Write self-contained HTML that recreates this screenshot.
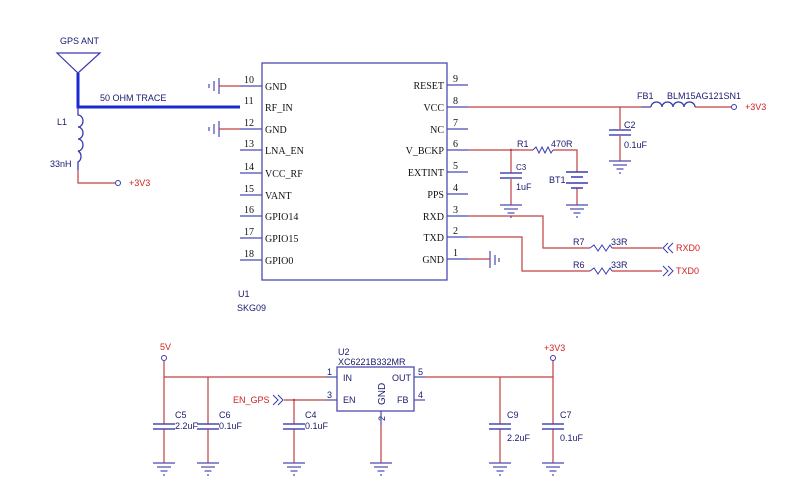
<!DOCTYPE html>
<html><head><meta charset="utf-8"><style>
html,body{margin:0;padding:0;background:#fff;}
svg{display:block}
text{font-family:"Liberation Sans",sans-serif;font-size:9px;fill:#1a1a6e}
.m{font-family:"Liberation Serif",serif;font-size:10px;fill:#111}
.r{fill:#d02020}
</style></head><body>
<svg width="800" height="496" viewBox="0 0 800 496" xmlns="http://www.w3.org/2000/svg">
<defs>
<g id="gnd" stroke="#4a4ab0" stroke-width="1.2" fill="none">
<line x1="-11" y1="0" x2="11" y2="0"/><line x1="-7" y1="4" x2="7" y2="4"/><line x1="-3.5" y1="8" x2="3.5" y2="8"/><line x1="0" y1="11" x2="0" y2="13"/>
</g>
<g id="cap" stroke="#4a4ab0" stroke-width="1.5"><line x1="-11" y1="0" x2="11" y2="0"/><line x1="-11" y1="5" x2="11" y2="5"/></g>
</defs>

<!-- Antenna -->
<text x="60" y="44">GPS ANT</text>
<polygon points="57,53 100,53 78,73" fill="none" stroke="#3a3ab0" stroke-width="1.2"/>
<polyline points="78,73 78,107 240,107" fill="none" stroke="#1a2ad0" stroke-width="3"/>
<text x="100" y="101">50 OHM TRACE</text>
<text x="57" y="125">L1</text>
<path d="M78,107 V115 a5,6 0 0 1 0,12 a5,6 0 0 1 0,12 a5,6 0 0 1 0,12 a5,6 0 0 1 0,11 V170" fill="none" stroke="#3a3ab0" stroke-width="1.3"/>
<text x="50" y="167">33nH</text>
<polyline points="78,170 78,183 115,183" fill="none" stroke="#c04040" stroke-width="1.2"/>
<circle cx="118" cy="183" r="2.5" fill="none" stroke="#3a3ab0"/>
<text x="129" y="186" class="r">+3V3</text>

<!-- U1 -->
<rect x="262" y="63" width="185" height="217" fill="none" stroke="#4a4ab0" stroke-width="1.3"/>
<g stroke="#4a4ab0" stroke-width="1.2">
<line x1="240" y1="86" x2="262" y2="86"/><line x1="240" y1="129" x2="262" y2="129"/>
<line x1="240" y1="150" x2="262" y2="150"/><line x1="240" y1="173" x2="262" y2="173"/>
<line x1="240" y1="195" x2="262" y2="195"/><line x1="240" y1="216" x2="262" y2="216"/>
<line x1="240" y1="238" x2="262" y2="238"/><line x1="240" y1="260" x2="262" y2="260"/>
<line x1="447" y1="85" x2="468" y2="85"/><line x1="447" y1="107" x2="468" y2="107"/>
<line x1="447" y1="129" x2="468" y2="129"/><line x1="447" y1="150" x2="468" y2="150"/>
<line x1="447" y1="172" x2="468" y2="172"/><line x1="447" y1="194" x2="468" y2="194"/>
<line x1="447" y1="216" x2="468" y2="216"/><line x1="447" y1="237" x2="468" y2="237"/>
<line x1="447" y1="259" x2="468" y2="259"/>
</g>
<g class="m">
<text class="m" x="244" y="83">10</text><text class="m" x="244" y="104">11</text><text class="m" x="244" y="126">12</text>
<text class="m" x="244" y="147">13</text><text class="m" x="244" y="170">14</text><text class="m" x="244" y="192">15</text>
<text class="m" x="244" y="213">16</text><text class="m" x="244" y="235">17</text><text class="m" x="244" y="257">18</text>
<text class="m" x="265" y="90">GND</text><text class="m" x="265" y="111">RF_IN</text><text class="m" x="265" y="133">GND</text>
<text class="m" x="265" y="154">LNA_EN</text><text class="m" x="265" y="177">VCC_RF</text><text class="m" x="265" y="199">VANT</text>
<text class="m" x="265" y="220">GPIO14</text><text class="m" x="265" y="242">GPIO15</text><text class="m" x="265" y="264">GPIO0</text>
<text class="m" x="453" y="82">9</text><text class="m" x="453" y="104">8</text><text class="m" x="453" y="126">7</text>
<text class="m" x="453" y="147">6</text><text class="m" x="453" y="169">5</text><text class="m" x="453" y="191">4</text>
<text class="m" x="453" y="213">3</text><text class="m" x="453" y="234">2</text><text class="m" x="453" y="256">1</text>
<text class="m" x="444" y="89" text-anchor="end">RESET</text><text class="m" x="444" y="111" text-anchor="end">VCC</text>
<text class="m" x="444" y="133" text-anchor="end">NC</text><text class="m" x="444" y="154" text-anchor="end">V_BCKP</text>
<text class="m" x="444" y="176" text-anchor="end">EXTINT</text><text class="m" x="444" y="198" text-anchor="end">PPS</text>
<text class="m" x="444" y="220" text-anchor="end">RXD</text><text class="m" x="444" y="241" text-anchor="end">TXD</text>
<text class="m" x="444" y="263" text-anchor="end">GND</text>
</g>
<text x="238" y="297">U1</text>
<text x="237" y="311">SKG09</text>

<!-- left GNDs -->
<g stroke="#4a4ab0" stroke-width="1.2">
<line x1="219" y1="78" x2="219" y2="94"/><line x1="214" y1="81" x2="214" y2="91"/><line x1="209" y1="84" x2="209" y2="88"/>
<line x1="219" y1="121" x2="219" y2="137"/><line x1="214" y1="124" x2="214" y2="134"/><line x1="209" y1="127" x2="209" y2="131"/>
<line x1="490" y1="251" x2="490" y2="268"/><line x1="495" y1="255" x2="495" y2="265"/><line x1="499" y1="258" x2="499" y2="262"/>
</g>
<g stroke="#c04040" stroke-width="1.2" fill="none">
<line x1="219" y1="86" x2="240" y2="86"/><line x1="219" y1="129" x2="240" y2="129"/>
<line x1="468" y1="259" x2="490" y2="259"/>
<line x1="468" y1="107" x2="651" y2="107"/>
<line x1="620" y1="107" x2="620" y2="129"/><line x1="620" y1="136" x2="620" y2="161"/>
<line x1="695" y1="107" x2="731" y2="107"/>
<polyline points="468,150 533,150"/><polyline points="553,150 577,150 577,172"/>
<line x1="511" y1="150" x2="511" y2="173"/><line x1="511" y1="179" x2="511" y2="205"/>
<line x1="577" y1="188" x2="577" y2="205"/>
<polyline points="468,216 543,216 543,248 590,248"/><line x1="612" y1="248" x2="662" y2="248"/>
<polyline points="468,237 522,237 522,271 590,271"/><line x1="612" y1="271" x2="662" y2="271"/>
</g>
<!-- FB1 -->
<path d="M651,107 a5.5,5 0 0 1 11,0 a5.5,5 0 0 1 11,0 a5.5,5 0 0 1 11,0 a5.5,5 0 0 1 11,0" fill="none" stroke="#3a3ab0" stroke-width="1.3"/>
<line x1="641" y1="107" x2="651" y2="107" stroke="#3a3ab0"/>
<circle cx="734" cy="107" r="2.5" fill="none" stroke="#3a3ab0"/>
<text x="637" y="99">FB1</text><text x="667" y="99">BLM15AG121SN1</text>
<text x="745" y="110" class="r">+3V3</text>
<use href="#cap" x="620" y="130"/><use href="#gnd" x="620" y="161"/>
<text x="624" y="128">C2</text><text x="624" y="148">0.1uF</text>
<!-- R1 -->
<polyline points="533,150 536,147 539,153 542,147 545,153 548,147 551,153 553,150" fill="none" stroke="#3a3ab0"/>
<text x="517" y="147">R1</text><text x="551" y="147">470R</text>
<circle cx="511" cy="150" r="1.2" fill="#c04040"/>
<use href="#cap" x="511" y="173"/><use href="#gnd" x="511" y="205"/>
<text x="516" y="170" style="font-size:8px">C3</text><text x="516" y="190">1uF</text>
<g stroke="#3a3ab0" stroke-width="1.5"><line x1="566" y1="172" x2="588" y2="172"/><line x1="571" y1="177" x2="583" y2="177"/><line x1="566" y1="183" x2="588" y2="183"/><line x1="571" y1="188" x2="583" y2="188"/></g>
<use href="#gnd" x="577" y="205"/>
<text x="549" y="183">BT1</text>
<!-- R7 R6 -->
<polyline points="590,248 594,245 598,251 602,245 606,251 610,245 612,248" fill="none" stroke="#3a3ab0"/>
<polyline points="590,271 594,268 598,274 602,268 606,274 610,268 612,271" fill="none" stroke="#3a3ab0"/>
<text x="573" y="245">R7</text><text x="611" y="245">33R</text>
<text x="573" y="268">R6</text><text x="611" y="268">33R</text>
<g fill="none" stroke="#3a3ab0"><polyline points="668,243 663,248 668,253"/><polyline points="673,243 668,248 673,253"/>
<polyline points="663,266 668,271 663,276"/><polyline points="668,266 673,271 668,276"/></g>
<text x="676" y="251" class="r">RXD0</text><text x="676" y="274" class="r">TXD0</text>

<!-- Regulator -->
<text x="160" y="350" class="r">5V</text>
<circle cx="164" cy="358" r="2.5" fill="none" stroke="#3a3ab0"/>
<text x="338" y="355">U2</text><text x="338" y="365">XC6221B332MR</text>
<rect x="337" y="367" width="77" height="44" fill="none" stroke="#4a4ab0" stroke-width="1.3"/>
<g stroke="#c04040" stroke-width="1.2" fill="none">
<line x1="164" y1="361" x2="164" y2="424"/><line x1="164" y1="429" x2="164" y2="463"/>
<line x1="164" y1="377" x2="326" y2="377"/>
<line x1="208" y1="377" x2="208" y2="424"/><line x1="208" y1="429" x2="208" y2="463"/>
<line x1="284" y1="400" x2="326" y2="400"/>
<line x1="294" y1="400" x2="294" y2="424"/><line x1="294" y1="429" x2="294" y2="463"/>
<line x1="425" y1="377" x2="553" y2="377"/>
<line x1="500" y1="377" x2="500" y2="424"/><line x1="500" y1="429" x2="500" y2="463"/>
<line x1="553" y1="361" x2="553" y2="424"/><line x1="553" y1="429" x2="553" y2="463"/>
<line x1="381" y1="425" x2="381" y2="463"/>
</g>
<g stroke="#4a4ab0" stroke-width="1.2">
<line x1="326" y1="377" x2="337" y2="377"/><line x1="326" y1="400" x2="337" y2="400"/>
<line x1="414" y1="377" x2="425" y2="377"/><line x1="414" y1="400" x2="425" y2="400"/>
<line x1="381" y1="411" x2="381" y2="425"/>
</g>
<text x="327" y="375">1</text><text x="327" y="398">3</text><text x="418" y="375">5</text><text x="418" y="398">4</text>
<text x="0" y="0" transform="translate(385,421) rotate(-90)">2</text>
<text x="343" y="381">IN</text><text x="343" y="403">EN</text><text x="392" y="381">OUT</text><text x="397" y="403">FB</text>
<text x="0" y="0" transform="translate(385,405) rotate(-90)" style="font-size:10px">GND</text>
<text x="233" y="403" class="r">EN_GPS</text>
<g fill="none" stroke="#3a3ab0"><polyline points="273,395 278,400 273,405"/><polyline points="278,395 283,400 278,405"/></g>
<circle cx="294" cy="400" r="1.2" fill="#c04040"/>
<circle cx="553" cy="358" r="2.5" fill="none" stroke="#3a3ab0"/>
<text x="544" y="351" class="r">+3V3</text>
<use href="#cap" x="164" y="424"/><use href="#cap" x="208" y="424"/><use href="#cap" x="294" y="424"/>
<use href="#cap" x="500" y="424"/><use href="#cap" x="553" y="424"/>
<use href="#gnd" x="164" y="463"/><use href="#gnd" x="208" y="463"/><use href="#gnd" x="294" y="463"/>
<use href="#gnd" x="381" y="463"/><use href="#gnd" x="500" y="463"/><use href="#gnd" x="553" y="463"/>
<text x="175" y="418">C5</text><text x="175" y="429">2.2uF</text>
<text x="219" y="418">C6</text><text x="219" y="429">0.1uF</text>
<text x="305" y="418">C4</text><text x="305" y="429">0.1uF</text>
<text x="507" y="418">C9</text><text x="507" y="441">2.2uF</text>
<text x="560" y="418">C7</text><text x="560" y="441">0.1uF</text>
</svg>
</body></html>
